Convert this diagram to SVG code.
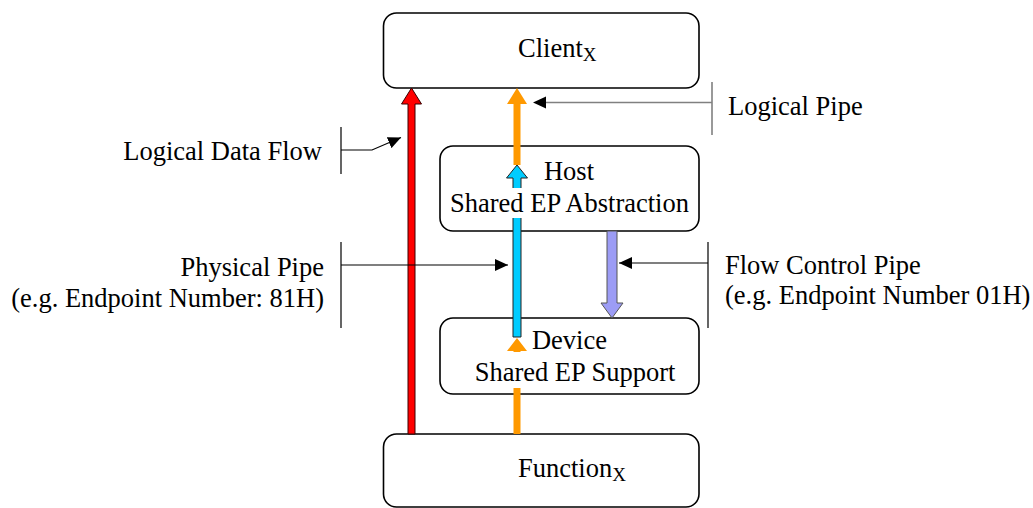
<svg xmlns="http://www.w3.org/2000/svg" width="1033" height="508" viewBox="0 0 1033 508">
<style>
.box{fill:#fff;stroke:#000;stroke-width:1.6}
.t{font-family:"Liberation Serif","Times New Roman",serif;font-size:26.5px;fill:#000}
.sub{font-size:19px}
.call{stroke:#000;stroke-width:1.2;fill:none}
.gcall{stroke:#808080;stroke-width:1.6;fill:none}
.bg{fill:#fff;stroke:none}
</style>
<defs>
<marker id="ah" markerUnits="userSpaceOnUse" markerWidth="14" markerHeight="12" refX="13" refY="6" orient="auto">
<path d="M0,0 L13,6 L0,12 z" fill="#000"/>
</marker>
</defs>
<rect width="1033" height="508" fill="#fff"/>
<g id="client">
<rect class="box" x="383.5" y="13" width="315.5" height="75" rx="13"/>
<text class="t" x="518" y="57">Client<tspan class="sub" dy="4">X</tspan></text>
</g>
<g id="host">
<rect class="box" x="440" y="146" width="259" height="85" rx="13"/>
</g>
<g id="device">
<rect class="box" x="440" y="318" width="259" height="76" rx="13"/>
</g>
<g id="function">
<rect class="box" x="383.5" y="434" width="315.5" height="73" rx="13"/>
<text class="t" x="518" y="477">Function<tspan class="sub" dy="4">X</tspan></text>
</g>
<g id="connectors">
<polygon points="411.5,88 421.5,104 415,104 415,434 408,434 408,104 401.5,104" fill="#ff0000" stroke="#3a0000" stroke-width="1"/>
<polygon points="517,88 527,104 520.5,104 520.5,165 513.5,165 513.5,104 507,104" fill="#ff9900"/>
<polygon points="517,338 527,351 520.5,351 520.5,434 513.5,434 513.5,351 507,351" fill="#ff9900"/>
<polygon points="517,165 527.5,178 521,178 521,337 513,337 513,178 506.5,178" fill="#00ccff" stroke="#222" stroke-width="1"/>
<polygon points="607,231 617,231 617,303 623,303 612,318 601,303 607,303" fill="#9c9cf5" stroke="#555" stroke-width="1"/>
<path class="gcall" d="M712,82 V135 M712,102.5 H546"/>
<path d="M533,102.5 L546,96.5 L546,108.5 z" fill="#000"/>
<path class="call" d="M341,127 V174 M341,150 H372 L401,137.5" marker-end="url(#ah)"/>
<path class="call" d="M341,242 V328 M341,265 H508" marker-end="url(#ah)"/>
<path class="call" d="M708,242 V328 M708,263 H619" marker-end="url(#ah)"/>
</g>
<g id="host-text">
<rect class="bg" x="452" y="188" width="236" height="30"/>
<text class="t" x="569" y="180" text-anchor="middle">Host</text>
<text class="t" x="569.5" y="212" text-anchor="middle">Shared EP Abstraction</text>
</g>
<g id="device-text">
<rect class="bg" x="474" y="352" width="203" height="36"/>
<text class="t" x="569.5" y="349" text-anchor="middle">Device</text>
<text class="t" x="575" y="381" text-anchor="middle">Shared EP Support</text>
</g>
<g id="label-logical-data-flow">
<text class="t" x="322" y="160" text-anchor="end">Logical Data Flow</text>
</g>
<g id="label-logical-pipe">
<text class="t" x="728" y="115">Logical Pipe</text>
</g>
<g id="label-physical-pipe">
<text class="t" x="324" y="276" text-anchor="end">Physical Pipe</text>
<text class="t" x="324" y="307" text-anchor="end">(e.g. Endpoint Number: 81H)</text>
</g>
<g id="label-flow-control-pipe">
<text class="t" x="725" y="274">Flow Control Pipe</text>
<text class="t" x="725" y="304">(e.g. Endpoint Number 01H)</text>
</g>
</svg>
